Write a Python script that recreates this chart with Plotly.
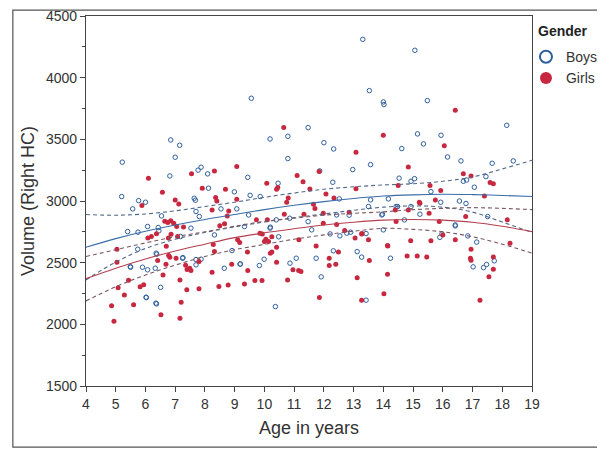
import plotly.graph_objects as go

# boys (open circles)
boys_age = [5.22, 5.2, 5.57, 5.77, 6.0, 6.85, 7.15, 7.0, 6.82, 7.68, 7.77, 7.87, 8.09, 8.12, 8.54,
            8.99, 9.07, 9.44, 9.52, 9.56, 9.86, 10.19, 10.46, 10.79, 10.79, 13.31, 15.06, 13.53, 14.0,
            14.02, 15.48, 18.15, 11.47, 15.15, 15.94, 12.0, 12.33, 14.62, 15.35, 16.16, 16.61, 13.57,
            17.66, 18.37, 11.86, 12.97, 12.3, 14.53, 14.93, 15.05, 16.69, 16.8, 17.45, 12.52, 15.6,
            13.57, 14.17, 15.93, 16.56, 16.78, 13.5, 13.97, 15.23, 17.51, 5.4, 5.75, 6.07, 6.45, 5.5,
            5.74, 5.9, 6.03, 6.37, 6.51, 6.33, 6.38, 7.26, 7.7, 7.87, 8.65, 8.91, 9.18, 9.83, 9.99,
            10.37, 10.19, 10.48, 8.32, 7.18, 11.59, 12.21, 12.54, 12.77, 12.9, 13.42, 14.0, 11.74,
            11.91, 12.32, 13.12, 13.27, 13.42, 14.24, 15.9, 16.42, 16.84, 17.14, 17.02, 17.37, 17.47,
            17.73, 6.54, 7.53, 7.64, 6.36, 7.25, 5.49, 6.07, 7.7, 6.02, 6.35, 7.81, 9.47, 10.4, 10.85,
            11.47, 9.33, 10.2, 9.19, 10.86, 11.07, 12.85, 12.43, 13.95, 14.48, 14.93, 14.71, 16.42,
            15.97, 17.06, 7.7, 14.43, 6.43]
boys_vol = [3315, 3036, 2936, 3003, 2990, 3495, 3452, 3355, 3203, 3006, 3250, 3274, 3220, 3104, 2936,
            3074, 2936, 3192, 3046, 3833, 3036, 3503, 3144, 3525, 3344, 4311, 4222, 3895, 3803,
            3782, 3814, 3614, 3595, 3544, 3533, 3473, 3422, 3425, 3463, 3357, 3325, 3295,
            3306, 3325, 3244, 3255, 3152, 3185, 3160, 3181, 3160, 3170, 3198, 3017, 3076,
            3009, 3017, 2990, 3000, 2980, 2955, 2893, 2893, 2874, 2752, 2747, 2793, 2758, 2463,
            2609, 2463, 2217, 2166, 2300, 2455, 2569, 2541, 2482, 2528, 2455, 2598, 2488, 2477, 2528,
            2144, 2780, 2710, 2725, 2712, 2766, 2733, 2717, 2739, 2747, 2736, 2766, 2536,
            2385, 2596, 2590, 2545, 2196, 2536, 2705, 2798, 2717, 2667, 2466, 2460, 2485,
            2515, 2879, 2780, 3022, 2577, 2536, 2468, 2442, 2525, 2220, 2172, 2874, 2887, 2847, 2860,
            2833, 2793, 2788, 2490, 2496, 2536, 2885, 2887, 2887, 2955, 2955, 2847, 2806,
            2734, 3112, 2915, 2955, 2785]

# girls (filled circles)
girls_age = [4.86, 4.94, 5.04, 5.04, 5.43, 5.29, 5.08, 5.6, 5.82, 5.88, 6.1, 6.57, 6.52, 6.59, 6.69,
             6.7, 6.82, 7.03, 7.16, 7.2, 7.16, 7.39, 7.49, 7.53, 7.8, 7.8, 8.24, 8.32, 8.47, 8.78,
             8.9, 9.33, 9.44, 9.43, 9.68, 9.92, 10.25, 10.41, 10.41, 10.78, 11.15, 10.05, 9.85, 8.28,
             6.77, 6.08, 6.37, 7.0, 7.12, 7.55, 7.91, 8.32, 8.36, 8.4, 8.69, 8.8, 9.07, 9.07, 10.08,
             10.41, 10.45, 10.65, 10.75, 10.8, 11.1, 10.67, 16.42, 14.0, 13.08, 16.05, 11.84, 14.84,
             11.3, 16.69, 16.95, 17.59, 17.7, 11.53, 13.08, 12.34, 12.07, 15.57, 15.93, 14.5, 17.4,
             15.75, 11.65, 11.7, 14.4, 15.21, 15.54, 16.77, 18.17, 12.7, 13.28, 13.5, 13.05, 11.23,
             11.74, 11.85, 12.18, 12.18, 12.4, 12.49, 13.53, 13.12, 13.27, 14.02, 14.14, 14.15, 14.8,
             15.14, 15.46, 14.92, 15.6, 16.0, 16.42, 16.95, 16.93, 16.95, 17.25, 17.55, 17.7, 17.7,
             18.26, 6.65, 6.75, 6.85, 6.95, 7.05, 7.28, 7.08, 6.86, 6.2, 6.78, 7.35, 7.4, 5.94, 8.5,
             8.66, 9.1, 9.17, 9.93, 10.0, 10.14, 10.25, 11.16, 10.2, 10.96, 9.73, 10.1, 8.75, 11.33,
             11.98, 12.85, 11.98, 12.43, 14.43, 14.84, 15.23, 13.27, 14.14, 15.88, 6.41, 8.24]
girls_vol = [2150, 2026, 2609, 2504, 2358, 2237, 2296, 2158, 2304, 2963, 3185, 3071, 2077, 2401, 2488,
             2634, 2544, 2536, 2360, 2180, 2050, 2280, 2455, 2436, 2288, 2510, 2423, 2590, 2306, 2318,
             2488, 2328, 2436, 2586, 2355, 2355, 2586, 2626, 2504, 2360, 2436, 2690, 2739, 2648,
             2700, 2700, 2735, 3009, 2976, 3220, 3104, 3244, 3028, 3000, 3096, 2918, 3279, 3015, 3144,
             3096, 3110, 3595, 2990, 3025, 3206, 2893, 3736, 3533, 3395, 3447, 3240, 3276,
             3157, 3220, 3203, 3150, 3140, 3098, 3100, 3025, 3057, 3125, 3085, 3125, 3041,
             3009, 2974, 2940, 2928, 2990, 2901, 2874, 2847, 2760, 2736, 2685, 2699, 2428,
             2636, 2217, 2536, 2477, 2488, 2586, 2518, 2377, 2196, 2247, 2407, 2636, 2555,
             2555, 2545, 2677, 2677, 2725, 2686, 2609, 2536, 2520, 2196, 2385, 2545, 2447,
             2658, 2835, 2825, 2840, 2820, 2793, 2790, 2712, 2730, 2712, 2558, 2480, 2445, 2320, 2800,
             2815, 2685, 2663, 2733, 2671, 2671, 2710, 2685, 2577, 2442, 2847, 2847, 2879, 2893,
             2901, 2909, 2820, 2810, 2833, 2928, 2982, 2733, 2639, 2833, 2517, 2928]

# fitted curves and confidence bands, read at each year
fit_age = [4, 5, 6, 7, 8, 9, 10, 11, 12, 13, 14, 15, 16, 17, 18, 19]
boys_fit = [2625, 2695, 2755, 2805, 2850, 2890, 2930, 2965, 2995, 3020, 3040, 3050, 3055, 3052, 3045, 3036]
boys_hi = [2890, 2885, 2895, 2920, 2955, 2990, 3030, 3065, 3095, 3115, 3130, 3140, 3160, 3195, 3260, 3330]
boys_lo = [2360, 2505, 2615, 2690, 2745, 2790, 2830, 2865, 2895, 2925, 2950, 2960, 2950, 2910, 2830, 2745]
girls_fit = [2370, 2455, 2530, 2595, 2650, 2703, 2742, 2775, 2805, 2828, 2845, 2850, 2845, 2828, 2795, 2752]
girls_hi = [2550, 2605, 2660, 2710, 2750, 2795, 2835, 2860, 2885, 2900, 2912, 2930, 2940, 2946, 2940, 2930]
girls_lo = [2190, 2305, 2400, 2480, 2550, 2605, 2648, 2690, 2725, 2755, 2778, 2770, 2750, 2710, 2650, 2577]

BLUE = '#2f5f9e'
RED = '#c8283f'
FONT = 'Liberation Sans, Arial, sans-serif'

fig = go.Figure()

fig.add_trace(go.Scatter(x=boys_age, y=boys_vol, mode='markers', name='Boys',
                         marker=dict(symbol='circle-open', size=4.5, color=BLUE, line=dict(width=1))))
fig.add_trace(go.Scatter(x=girls_age, y=girls_vol, mode='markers', name='Girls',
                         marker=dict(symbol='circle', size=5, color=RED)))

for ys, col, dash in [(boys_fit, '#3a6ea8', 'solid'), (boys_hi, '#52698a', '4px,3px'), (boys_lo, '#52698a', '4px,3px'),
                      (girls_fit, '#b4404f', 'solid'), (girls_hi, '#7a5862', '4px,3px'), (girls_lo, '#7a5862', '4px,3px')]:
    fig.add_trace(go.Scatter(x=fit_age, y=ys, mode='lines', showlegend=False, hoverinfo='skip',
                             line=dict(color=col, width=1.1, dash=dash, shape='spline')))

axis_common = dict(showline=True, linecolor='#444', linewidth=1.3, mirror=True, showgrid=False,
                   zeroline=False, ticks='outside', ticklen=5, tickcolor='#444', automargin=False,
                   ticklabeloverflow='allow', tickfont=dict(family=FONT, size=14, color='#333'))

fig.update_xaxes(range=[4, 19], dtick=1, tick0=4,
                 title=dict(text='Age in years', font=dict(family=FONT, size=18, color='#333'), standoff=10),
                 **axis_common)
fig.update_yaxes(range=[1500, 4500], dtick=500, tick0=1500,
                 minor=dict(dtick=250, ticks='outside', ticklen=3, tickcolor='#444'),
                 title=dict(text='Volume (Right HC)', font=dict(family=FONT, size=18, color='#333'), standoff=6),
                 **axis_common)

# the page body adds an 8px offset, so the figure is 8px smaller than the window
fig.update_layout(
    width=597, height=441,
    margin=dict(l=78, r=73, t=8, b=63, autoexpand=False),
    paper_bgcolor='white', plot_bgcolor='white',
    showlegend=True,
    legend=dict(x=0.9865, y=0.932, xanchor='left', yanchor='top',
                font=dict(family=FONT, size=14, color='#333'),
                itemsizing='constant', tracegroupgap=0, bgcolor='rgba(0,0,0,0)'),
    annotations=[dict(text='<b>Gender</b>', xref='paper', yref='paper', x=1.009, y=0.959,
                      xanchor='left', yanchor='middle', showarrow=False,
                      font=dict(family=FONT, size=14, color='#222'))],
    shapes=[dict(type='rect', xref='paper', yref='paper', x0=-0.164, x1=1.153, y0=-0.165, y1=1.016,
                 line=dict(color='#555', width=1.2))],
)

fig.write_html("out.html")
